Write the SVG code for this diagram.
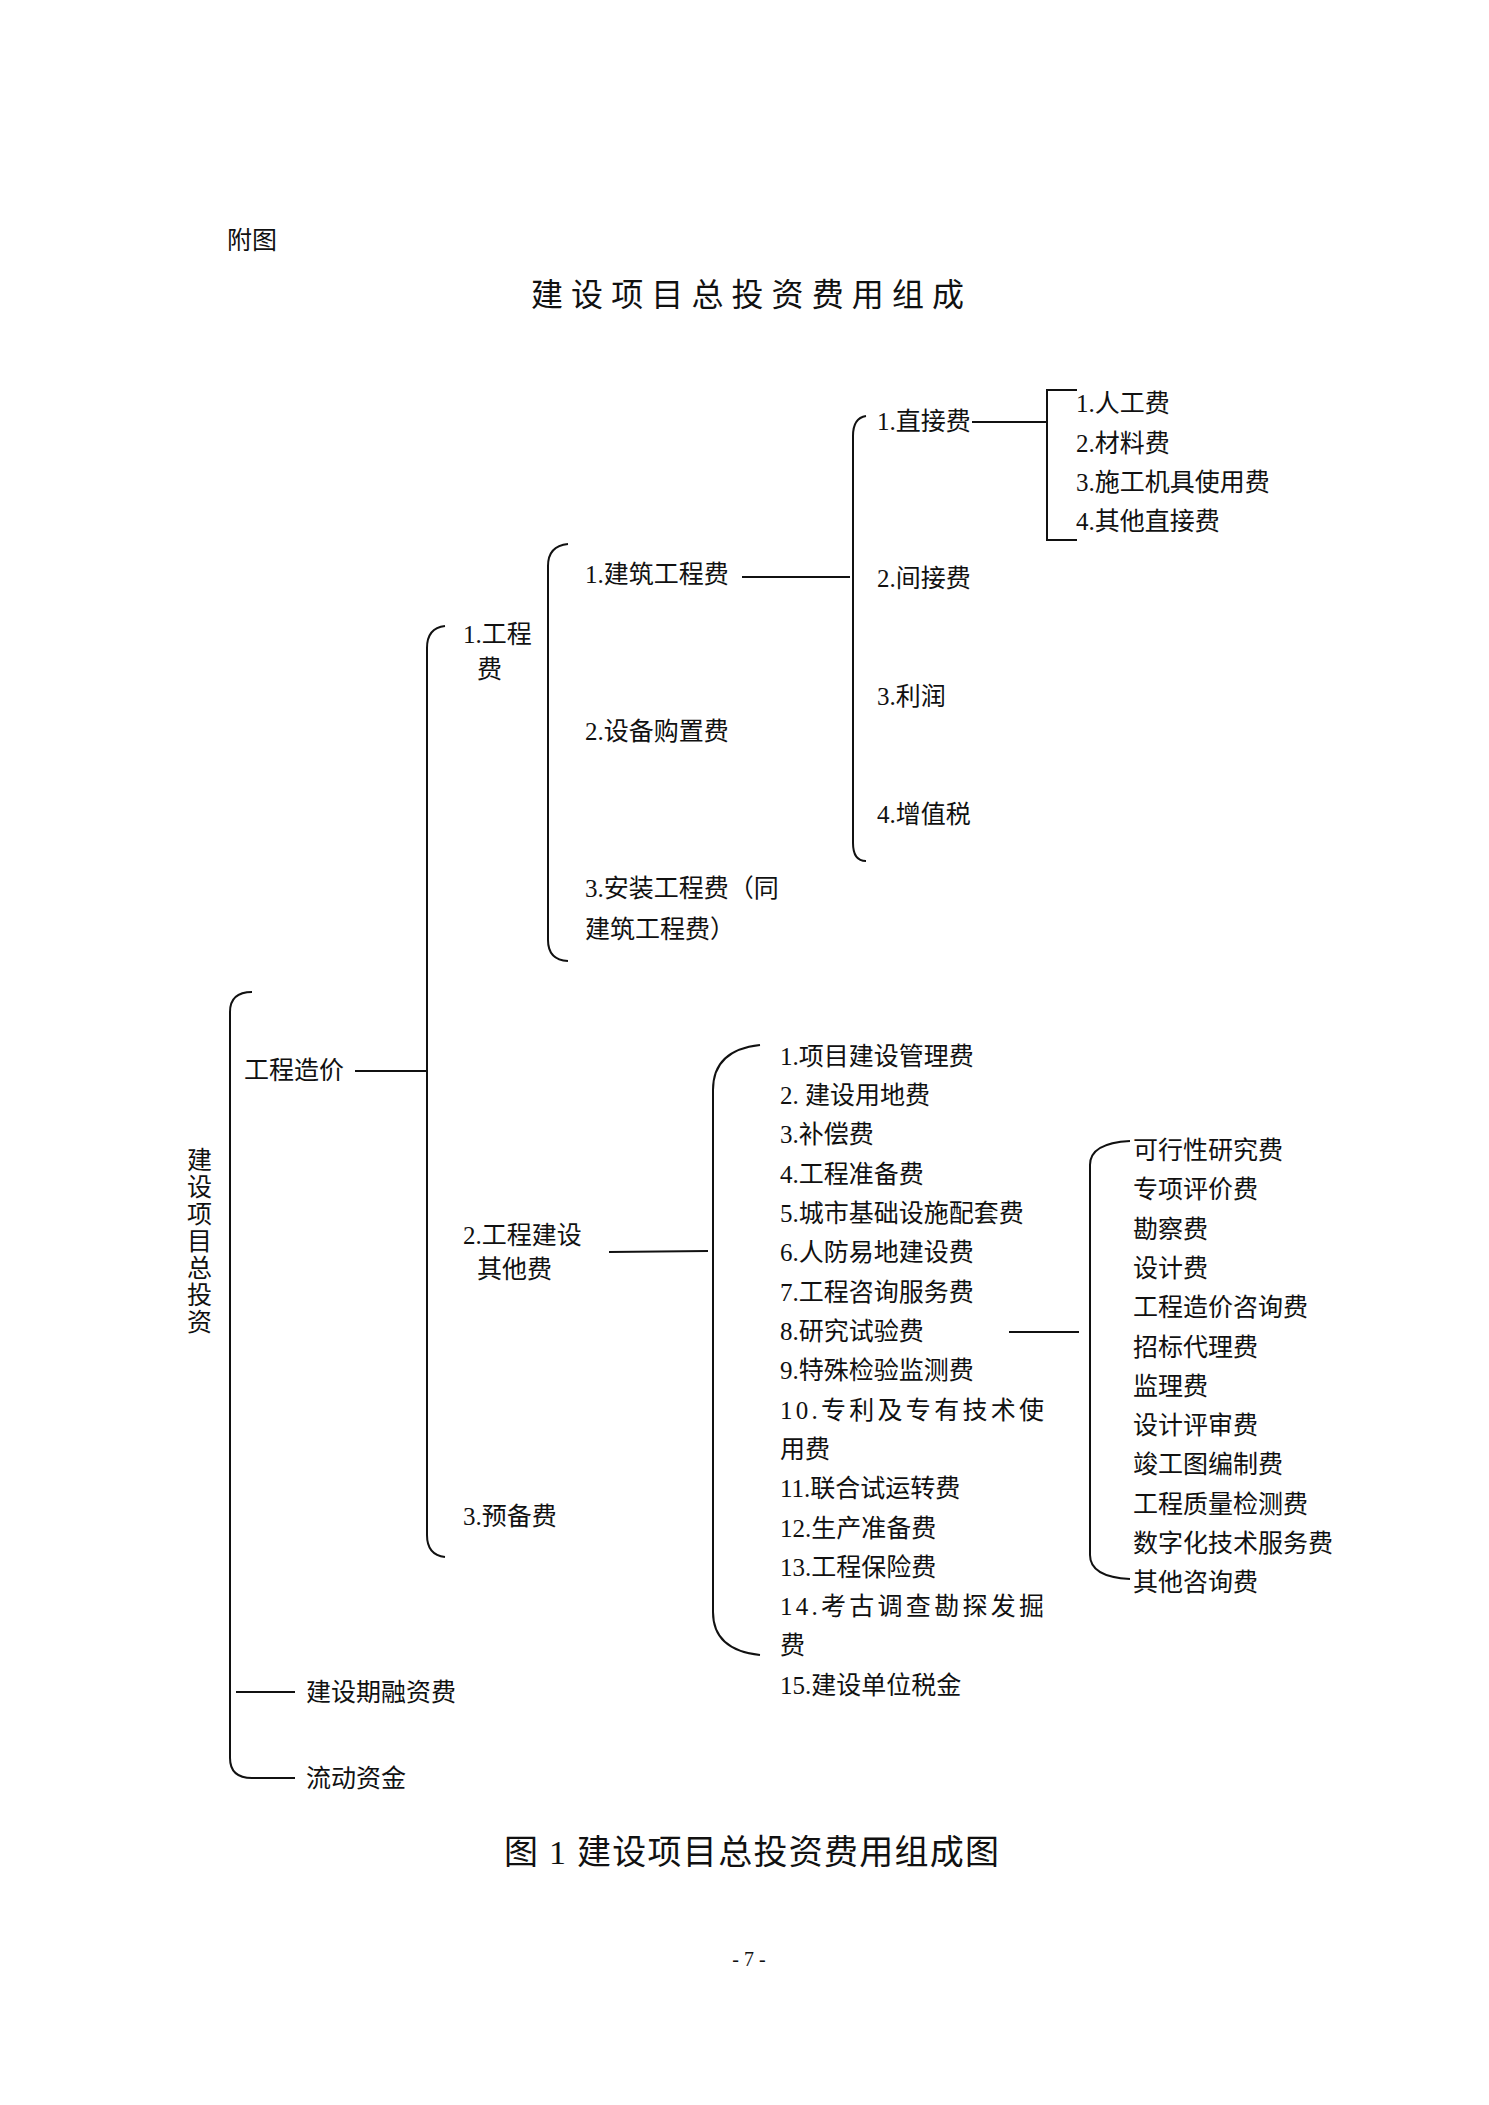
<svg xmlns="http://www.w3.org/2000/svg" width="1489" height="2105" viewBox="0 0 1489 2105">
<style>
text{font-family:"Liberation Serif","Noto Sans CJK SC",serif;font-size:25px;fill:#111;dominant-baseline:central}
.b{fill:none;stroke:#111;stroke-width:2}
.t{font-size:32px}
.c{font-size:34px}
</style>
<rect width="1489" height="2105" fill="#fff"/>
<text x="227" y="240">附图</text>
<text class="t" x="531" y="295" textLength="433" lengthAdjust="spacing">建设项目总投资费用组成</text>
<g id="connectors">
<path class="b" d="M252,992 Q230,992 230,1012 V1758 Q230,1778 252,1778 H295"/>
<path class="b" d="M236,1692 H295"/>
<path class="b" d="M355,1071 H427"/>
<path class="b" d="M445,626 Q427,628 427,648 V1535 Q427,1555 445,1557"/>
<path class="b" d="M568,544 Q548,546 548,566 V940 Q548,960 568,961"/>
<path class="b" d="M742,577 H850"/>
<path class="b" d="M866,416 Q853,418 853,436 V843 Q853,861 866,861"/>
<path class="b" d="M972,422 H1047"/>
<path class="b" d="M1077,390 H1047 V540 H1077"/>
<path class="b" d="M609,1252 L708,1251"/>
<path class="b" d="M760,1045 Q713,1050 713,1090 V1612 Q713,1650 760,1655"/>
<path class="b" d="M1009,1332 H1079"/>
<path class="b" d="M1130,1141 Q1090,1143 1090,1165 V1555 Q1090,1577 1130,1579"/>
</g>
<g id="root"><text x="187" y="1160">建</text><text x="187" y="1187">设</text><text x="187" y="1214">项</text><text x="187" y="1241">目</text><text x="187" y="1268">总</text><text x="187" y="1295">投</text><text x="187" y="1322">资</text></g>
<g id="n-gczj"><text x="244" y="1070">工程造价</text></g>
<g id="n-rzf"><text x="306" y="1692">建设期融资费</text></g>
<g id="n-ldzj"><text x="306" y="1778">流动资金</text></g>
<g id="n-gcf"><text x="463" y="634">1.工程</text><text x="477" y="669">费</text></g>
<g id="n-qtf"><text x="463" y="1235">2.工程建设</text><text x="477" y="1269">其他费</text></g>
<g id="n-ybf"><text x="463" y="1516">3.预备费</text></g>
<g id="n-jzgcf"><text x="585" y="574">1.建筑工程费</text></g>
<g id="n-sbgzf"><text x="585" y="731">2.设备购置费</text></g>
<g id="n-azgcf"><text x="585" y="888">3.安装工程费（同</text><text x="585" y="929">建筑工程费）</text></g>
<g id="n-zjf"><text x="877" y="421">1.直接费</text></g>
<g id="n-jjf"><text x="877" y="578">2.间接费</text></g>
<g id="n-lr"><text x="877" y="696">3.利润</text></g>
<g id="n-zzs"><text x="877" y="814">4.增值税</text></g>
<g id="n-zj-items"><text x="1076" y="403">1.人工费</text><text x="1076" y="443">2.材料费</text><text x="1076" y="482">3.施工机具使用费</text><text x="1076" y="521">4.其他直接费</text></g>
<g id="n-qt-items">
<text x="780" y="1056">1.项目建设管理费</text>
<text x="780" y="1095">2. 建设用地费</text>
<text x="780" y="1134">3.补偿费</text>
<text x="780" y="1174">4.工程准备费</text>
<text x="780" y="1213">5.城市基础设施配套费</text>
<text x="780" y="1252">6.人防易地建设费</text>
<text x="780" y="1292">7.工程咨询服务费</text>
<text x="780" y="1331">8.研究试验费</text>
<text x="780" y="1370">9.特殊检验监测费</text>
<text x="780" y="1410" textLength="264" lengthAdjust="spacing">10.专利及专有技术使</text>
<text x="780" y="1449">用费</text>
<text x="780" y="1488">11.联合试运转费</text>
<text x="780" y="1528">12.生产准备费</text>
<text x="780" y="1567">13.工程保险费</text>
<text x="780" y="1606" textLength="264" lengthAdjust="spacing">14.考古调查勘探发掘</text>
<text x="780" y="1645">费</text>
<text x="780" y="1685">15.建设单位税金</text>
</g>
<g id="n-zx-items">
<text x="1133" y="1150">可行性研究费</text>
<text x="1133" y="1189">专项评价费</text>
<text x="1133" y="1229">勘察费</text>
<text x="1133" y="1268">设计费</text>
<text x="1133" y="1307">工程造价咨询费</text>
<text x="1133" y="1347">招标代理费</text>
<text x="1133" y="1386">监理费</text>
<text x="1133" y="1425">设计评审费</text>
<text x="1133" y="1464">竣工图编制费</text>
<text x="1133" y="1504">工程质量检测费</text>
<text x="1133" y="1543">数字化技术服务费</text>
<text x="1133" y="1582">其他咨询费</text>
</g>
<text class="c" x="504" y="1852" textLength="495" lengthAdjust="spacing">图 1  建设项目总投资费用组成图</text>
<text x="749" y="1959" text-anchor="middle" style="font-size:20px">- 7 -</text>
</svg>
